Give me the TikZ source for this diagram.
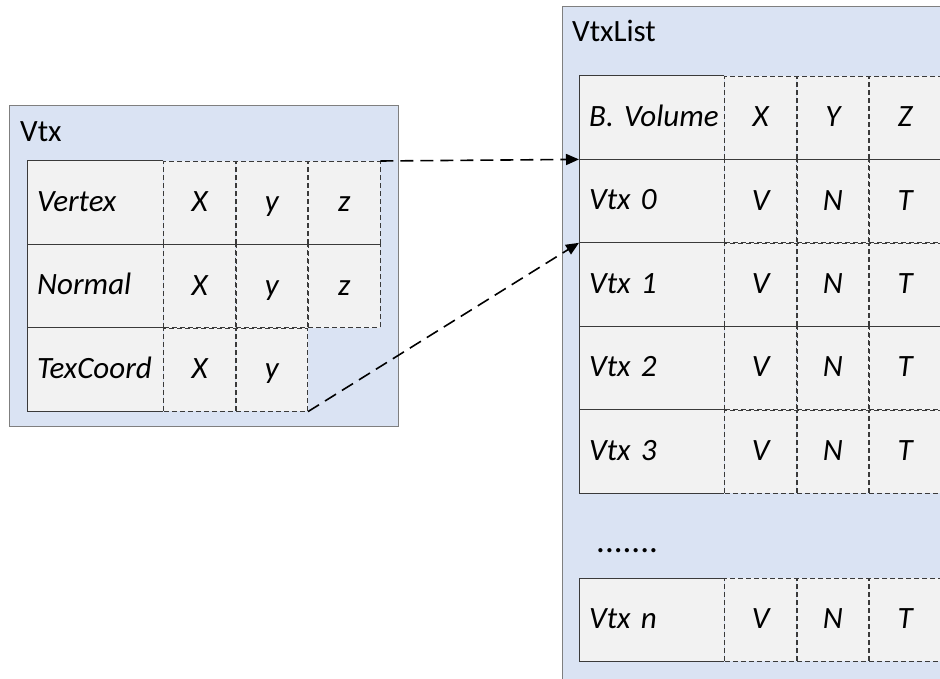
\documentclass[tikz,border=0pt]{standalone}
\usepackage{fontspec}
\setmainfont{Carlito}
\usetikzlibrary{arrows.meta}
\definecolor{panelfill}{HTML}{DAE3F3}
\definecolor{panelline}{HTML}{7F7F7F}
\definecolor{cellfill}{HTML}{F2F2F2}
\definecolor{cellline}{HTML}{3A3A3A}
\newcommand\figfont{\fontsize{31}{36}\selectfont}
\begin{document}
\begin{tikzpicture}[x=1pt,y=-1pt,
  panel/.style={rectangle, draw=panelline, fill=panelfill, line width=1.2pt,
    inner sep=0pt, anchor=north west},
  title/.style={anchor=base west, inner sep=0pt, font=\figfont},
  keycell/.style={rectangle, fill=cellfill, inner sep=0pt, inner xsep=10pt,
    minimum height=83pt, anchor=north west, align=left,
    text height=21pt, text depth=3.5pt, font=\figfont\itshape},
  valcell/.style={rectangle, fill=cellfill, draw=cellline, line width=0.8pt,
    dash pattern=on 5pt off 3pt, inner sep=0pt, minimum height=83pt,
    minimum width=71.5pt, anchor=north west,
    text height=21pt, text depth=3.5pt, font=\figfont\itshape},
  keyedge/.style={draw=cellline, line width=1pt},
  link/.style={line width=1.6pt, dash pattern=on 13pt off 7pt,
    -{Triangle[length=13pt,width=11pt]}}]
\clip (0,0) rectangle (940,679);

% containers
\node[panel, minimum width=389pt, minimum height=321pt] (vtxpanel) at (9,105) {};
\node[panel, minimum width=390pt, minimum height=690pt] (listpanel) at (562,6) {};
\node[title] (vtxtitle) at (20,142) {Vtx};
\node[title] (listtitle) at (572,42) {VtxList};

% Vtx table
\node[keycell, text width=116pt] (vert) at (27,161) {\mbox{Vertex}};
\node[valcell] (vert-x) at (vert.north east) {X};
\node[valcell] (vert-y) at (vert-x.north east) {y};
\node[valcell] (vert-z) at (vert-y.north east) {z};
\draw[keyedge] (vert.north east) -- (vert.north west) -- (vert.south west) -- (vert.south east);

\node[keycell, text width=116pt] (norm) at (vert.south west) {\mbox{Normal}};
\node[valcell] (norm-x) at (norm.north east) {X};
\node[valcell] (norm-y) at (norm-x.north east) {y};
\node[valcell] (norm-z) at (norm-y.north east) {z};
\draw[keyedge] (norm.north east) -- (norm.north west) -- (norm.south west) -- (norm.south east);

\node[keycell, text width=116pt] (tex) at (norm.south west) {\mbox{TexCoord}};
\node[valcell] (tex-x) at (tex.north east) {X};
\node[valcell] (tex-y) at (tex-x.north east) {y};
\draw[keyedge] (tex.north east) -- (tex.north west) -- (tex.south west) -- (tex.south east);

% VtxList table
\node[keycell, text width=125pt] (bv) at (579,76) {\mbox{B. Volume}};
\node[valcell] (bv-x) at (bv.north east) {X};
\node[valcell] (bv-y) at (bv-x.north east) {Y};
\node[valcell] (bv-z) at (bv-y.north east) {Z};
\draw[keyedge] (bv.north east) -- (bv.north west) -- (bv.south west) -- (bv.south east);

\node[keycell, text width=125pt] (v0) at (bv.south west) {\mbox{Vtx 0}};
\node[valcell] (v0-v) at (v0.north east) {V};
\node[valcell] (v0-n) at (v0-v.north east) {N};
\node[valcell] (v0-t) at (v0-n.north east) {T};
\draw[keyedge] (v0.north east) -- (v0.north west) -- (v0.south west) -- (v0.south east);

\node[keycell, text width=125pt] (v1) at (v0.south west) {\mbox{Vtx 1}};
\node[valcell] (v1-v) at (v1.north east) {V};
\node[valcell] (v1-n) at (v1-v.north east) {N};
\node[valcell] (v1-t) at (v1-n.north east) {T};
\draw[keyedge] (v1.north east) -- (v1.north west) -- (v1.south west) -- (v1.south east);

\node[keycell, text width=125pt] (v2) at (v1.south west) {\mbox{Vtx 2}};
\node[valcell] (v2-v) at (v2.north east) {V};
\node[valcell] (v2-n) at (v2-v.north east) {N};
\node[valcell] (v2-t) at (v2-n.north east) {T};
\draw[keyedge] (v2.north east) -- (v2.north west) -- (v2.south west) -- (v2.south east);

\node[keycell, text width=125pt] (v3) at (v2.south west) {\mbox{Vtx 3}};
\node[valcell] (v3-v) at (v3.north east) {V};
\node[valcell] (v3-n) at (v3-v.north east) {N};
\node[valcell] (v3-t) at (v3-n.north east) {T};
\draw[keyedge] (v3.north east) -- (v3.north west) -- (v3.south west) -- (v3.south east);

\node[anchor=base west, inner sep=0pt, font=\fontsize{35}{40}\selectfont] (dots) at (596,552) {.......};

\node[keycell, text width=125pt] (vn) at (579,578) {\mbox{Vtx n}};
\node[valcell] (vn-v) at (vn.north east) {V};
\node[valcell] (vn-n) at (vn-v.north east) {N};
\node[valcell] (vn-t) at (vn-n.north east) {T};
\draw[keyedge] (vn.north east) -- (vn.north west) -- (vn.south west) -- (vn.south east);

% references into the list
\draw[link] (vert-z.north east) -- (v0.north west);
\draw[link] (tex-y.south east) -- (v1.north west);
\end{tikzpicture}
\end{document}
